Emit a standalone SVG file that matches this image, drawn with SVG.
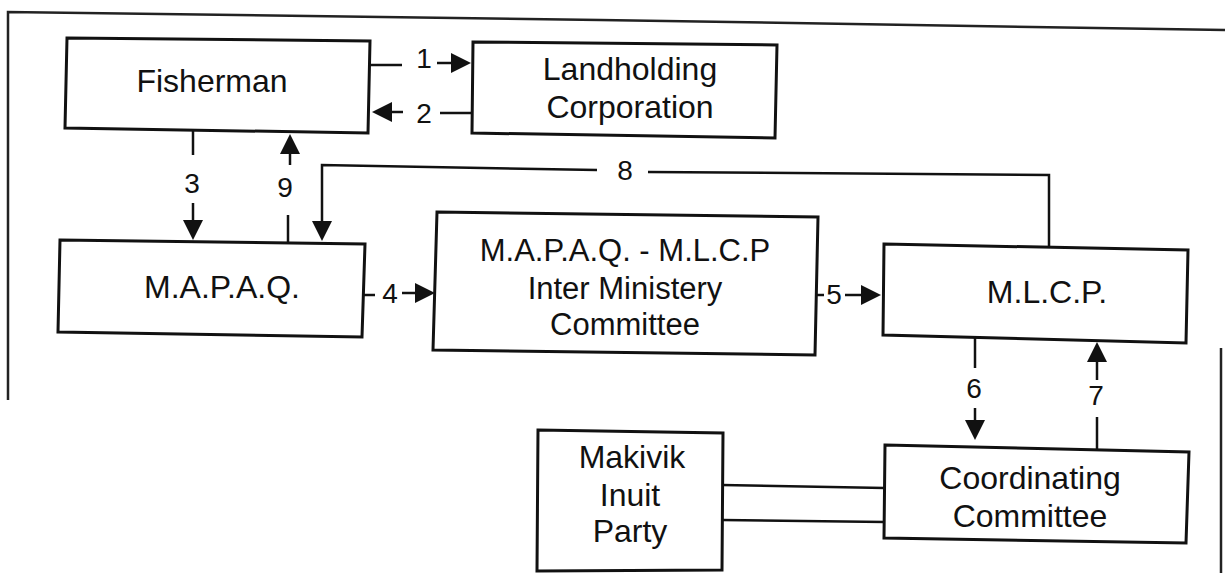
<svg xmlns="http://www.w3.org/2000/svg" width="1225" height="573" viewBox="0 0 1225 573">
<style>
.box{fill:#fff;stroke:#111;stroke-width:3;stroke-linejoin:miter}
.t{font-family:"Liberation Sans",Arial,sans-serif;font-size:32px;fill:#111;text-anchor:middle}
.t2{font-family:"Liberation Sans",Arial,sans-serif;font-size:31px;fill:#111;text-anchor:middle}
.n{font-family:"Liberation Sans",Arial,sans-serif;font-size:28px;fill:#111;text-anchor:middle}
.c{fill:none;stroke:#111;stroke-width:2.5}
.a{fill:none;stroke:#111;stroke-width:2.5;marker-end:url(#ah)}
.frame{fill:none;stroke:#222;stroke-width:2.5}
</style>
<defs>
<marker id="ah" viewBox="0 0 10 10" refX="0" refY="5" markerUnits="userSpaceOnUse" markerWidth="22" markerHeight="20" orient="auto">
<path d="M0,0 L10,5 L0,10 Z" fill="#111"/>
</marker>
</defs>
<rect width="1225" height="573" fill="#fff"/>
<g id="frame">
<path class="frame" d="M8,400 L8,12 L600,20 L1225,30"/>
<path class="frame" d="M1221,348 L1221,573"/>
</g>
<g id="connectors">
<line class="c" x1="370" y1="65" x2="402" y2="65"/>
<line class="a" x1="437" y1="63" x2="451" y2="63"/>
<line class="c" x1="473" y1="113" x2="440" y2="113"/>
<line class="a" x1="403" y1="112" x2="392" y2="112"/>
<line class="c" x1="193" y1="131" x2="193" y2="155"/>
<line class="a" x1="193" y1="203" x2="193" y2="220"/>
<line class="c" x1="288" y1="242" x2="288" y2="215"/>
<line class="a" x1="290" y1="165" x2="290" y2="154"/>
<polyline class="c" points="1049,247 1049,175 648,172"/>
<polyline class="a" points="597,170 322,165 322,221"/>
<line class="c" x1="364" y1="295" x2="375" y2="295"/>
<line class="a" x1="402" y1="293" x2="415" y2="293"/>
<line class="c" x1="817" y1="295" x2="824" y2="295"/>
<line class="a" x1="845" y1="295" x2="861" y2="295"/>
<line class="c" x1="975" y1="338" x2="975" y2="368"/>
<line class="a" x1="975" y1="408" x2="975" y2="420"/>
<line class="c" x1="1097" y1="449" x2="1097" y2="417"/>
<line class="a" x1="1097" y1="380" x2="1097" y2="362"/>
<line class="c" x1="722" y1="485" x2="885" y2="488"/>
<line class="c" x1="722" y1="520" x2="885" y2="522"/>
<text class="n" x="424" y="68">1</text>
<text class="n" x="424" y="123">2</text>
<text class="n" x="192" y="193">3</text>
<text class="n" x="285" y="197">9</text>
<text class="n" x="625" y="180">8</text>
<text class="n" x="390" y="303">4</text>
<text class="n" x="834" y="304">5</text>
<text class="n" x="974" y="398">6</text>
<text class="n" x="1096" y="405">7</text>
</g>
<g id="fisherman">
<path class="box" d="M67,38 L370,41 L368,133 L65,128 Z"/>
<text class="t" x="212" y="92">Fisherman</text>
</g>
<g id="landholding">
<path class="box" d="M473,42 L777,45 L775,138 L472,133 Z"/>
<text class="t" x="630" y="80">Landholding</text>
<text class="t" x="630" y="118">Corporation</text>
</g>
<g id="mapaq">
<path class="box" d="M60,240 L365,244 L362,337 L58,332 Z"/>
<text class="t" x="222" y="298">M.A.P.A.Q.</text>
</g>
<g id="inter-ministry">
<path class="box" d="M437,212 L818,217 L815,355 L433,350 Z"/>
<text class="t2" x="625" y="261">M.A.P.A.Q. - M.L.C.P</text>
<text class="t2" x="625" y="299">Inter Ministery</text>
<text class="t2" x="625" y="335">Committee</text>
</g>
<g id="mlcp">
<path class="box" d="M884,244 L1188,250 L1186,343 L883,335 Z"/>
<text class="t" x="1047" y="303">M.L.C.P.</text>
</g>
<g id="coordinating">
<path class="box" d="M885,445 L1189,452 L1186,543 L884,538 Z"/>
<text class="t" x="1030" y="489">Coordinating</text>
<text class="t" x="1030" y="527">Committee</text>
</g>
<g id="makivik">
<path class="box" d="M538,430 L723,433 L722,570 L537,571 Z"/>
<text class="t" x="632" y="468">Makivik</text>
<text class="t" x="630" y="506">Inuit</text>
<text class="t" x="630" y="542">Party</text>
</g>
</svg>
